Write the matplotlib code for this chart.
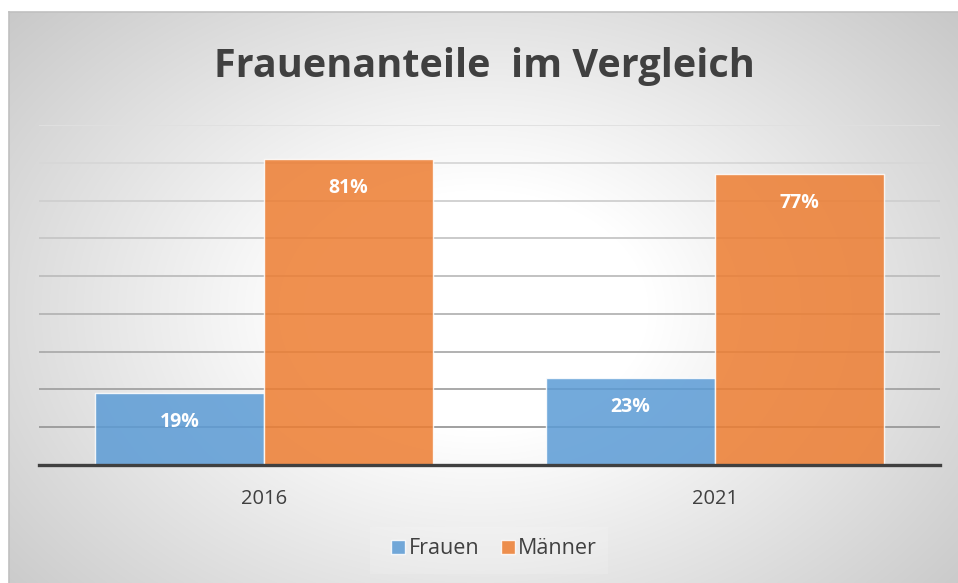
import numpy as np
import matplotlib
matplotlib.use("Agg")
import matplotlib.pyplot as plt
from matplotlib.patches import Rectangle

# ---- data ----
categories = ["2016", "2021"]
frauen = [19, 23]
maenner = [81, 77]
series_names = ["Frauen", "Männer"]
title = "Frauenanteile  im Vergleich"
grid_values = [10, 20, 30, 40, 50, 60, 70, 80, 90]

W, H = 958, 583
fig = plt.figure(figsize=(W / 100, H / 100), dpi=100)
plt.rcParams['font.family'] = ['Open Sans', 'DejaVu Sans']

# background: white margin + chart area with radial gradient
bg = fig.add_axes([0, 0, 1, 1], zorder=0)
bg.set_xlim(0, W); bg.set_ylim(H, 0); bg.axis("off")
x0, y0 = 9, 12
xx, yy = np.meshgrid(np.arange(x0, W), np.arange(y0, H))
cx, cy = 480, 310
r = np.sqrt(((xx - cx) / 600.0) ** 2 + ((yy - cy) / 430.0) ** 2)
val = 1 - 0.20 * np.clip((r - 0.28) / 0.72, 0, 1.3)
img = np.dstack([val, val, val])
bg.imshow(img, extent=[x0, W, H, y0], aspect="auto", interpolation="bilinear")
bg.plot([x0, W], [y0, y0], color="#c0c0c0", lw=1.2)
bg.plot([x0, x0], [y0, H], color="#c0c0c0", lw=1.2)
# legend backdrop
bg.add_patch(Rectangle((370, 527), 238, 47, facecolor="white", alpha=0.15, edgecolor="none"))

# main axes
ax = fig.add_axes([39 / W, (H - 465) / H, (940 - 39) / W, (465 - 125) / H], zorder=1)
ax.patch.set_alpha(0)
ax.set_xlim(-0.5, 1.5)
ax.set_ylim(0, 90)

for i, g in enumerate(grid_values):
    t = i / (len(grid_values) - 1)
    c = 0.60 + 0.28 * t
    ax.axhline(g, color=(c, c, c), lw=1.3, zorder=1)

x = np.arange(len(categories))
bw = 0.375
b1 = ax.bar(x - bw / 2, frauen, bw, color="#5B9BD5", alpha=0.85,
            edgecolor=(1, 1, 1, 0.6), lw=1, label=series_names[0], zorder=2)
b2 = ax.bar(x + bw / 2, maenner, bw, color="#ED7D31", alpha=0.85,
            edgecolor=(1, 1, 1, 0.6), lw=1, label=series_names[1], zorder=2)

for bars, vals in ((b1, frauen), (b2, maenner)):
    for b, v in zip(bars, vals):
        ax.annotate(f"{v}%", (b.get_x() + b.get_width() / 2, v), xytext=(0, -21),
                    textcoords="offset points", ha="center", va="center",
                    color="white", fontsize=14, fontweight="bold", zorder=3)

ax.axhline(0, color="#404040", lw=2.4, zorder=4, clip_on=False)
for s in ax.spines.values():
    s.set_visible(False)
ax.set_yticks([])
ax.set_xticks(x)
ax.set_xticklabels(categories, fontsize=14.5, color="#404040")
ax.tick_params(axis="x", length=0, pad=17)

fig.text(484 / W, 1 - 66 / H, title, ha="center", va="center", fontsize=28.5,
         fontweight="bold", color="#404040")

leg = fig.legend(handles=[b1, b2], labels=series_names, loc="center",
                 bbox_to_anchor=(494 / W, 1 - 549 / H), ncol=2, frameon=False,
                 fontsize=15.5, handlelength=0.65, handleheight=0.65, handletextpad=0.15,
                 columnspacing=1.0, labelcolor="#404040")

fig.savefig("out.png", dpi=100)
